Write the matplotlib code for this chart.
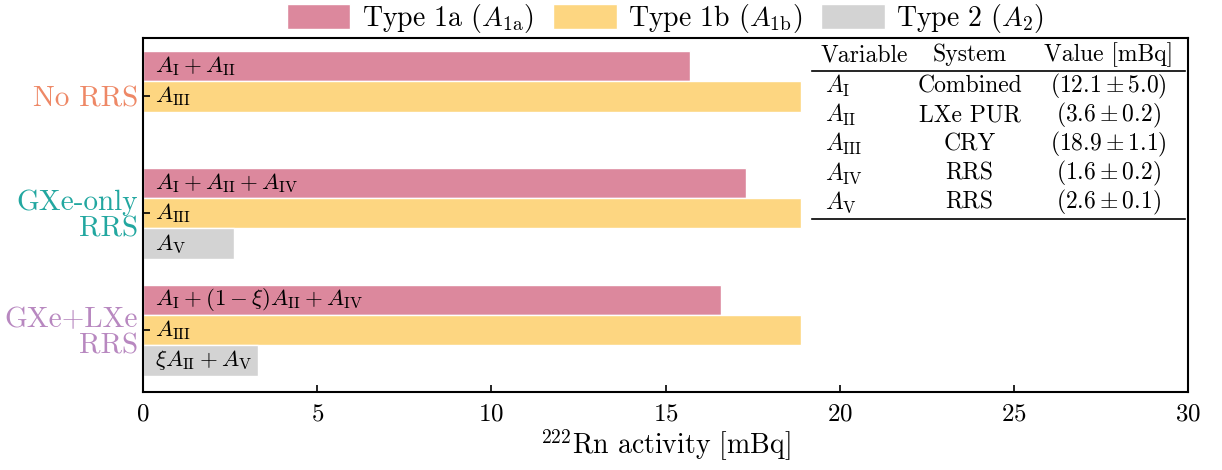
import numpy as np
import matplotlib
matplotlib.use("Agg")
import matplotlib.pyplot as plt

plt.rcParams['font.family'] = ['cmr10', 'DejaVu Serif']
plt.rcParams['mathtext.fontset'] = 'cm'
plt.rcParams['axes.unicode_minus'] = False
plt.rcParams['axes.formatter.use_mathtext'] = True

# data
groups = ['No RRS', 'GXe-only\nRRS', 'GXe+LXe\nRRS']
group_colors = ['#EE8866', '#22A7A0', '#B888C0']
type1a = [15.7, 17.3, 16.6]
type1b = [18.9, 18.9, 18.9]
type2 = [0.0, 2.6, 3.3]
labels_1a = [r'$A_\mathrm{I} + A_\mathrm{II}$',
             r'$A_\mathrm{I} + A_\mathrm{II} + A_\mathrm{IV}$',
             r'$A_\mathrm{I} + (1-\xi)A_\mathrm{II} + A_\mathrm{IV}$']
labels_1b = [r'$A_\mathrm{III}$'] * 3
labels_2 = ['', r'$A_\mathrm{V}$', r'$\xi A_\mathrm{II} + A_\mathrm{V}$']

# table
tab_head = ['Variable', 'System', 'Value [mBq]']
tab_var = [r'$A_\mathrm{I}$', r'$A_\mathrm{II}$', r'$A_\mathrm{III}$',
           r'$A_\mathrm{IV}$', r'$A_\mathrm{V}$']
tab_sys = ['Combined', 'LXe PUR', 'CRY', 'RRS', 'RRS']
tab_val = [r'$(12.1 \pm 5.0)$', r'$(3.6 \pm 0.2)$', r'$(18.9 \pm 1.1)$',
           r'$(1.6 \pm 0.2)$', r'$(2.6 \pm 0.1)$']

c1a, c1b, c2 = '#DC889D', '#FDD681', '#D3D3D3'

fig = plt.figure(figsize=(12.22, 4.70), dpi=100)
ax = fig.add_axes([143/1222, 1 - 392/470, 1045/1222, 354/470])

y = np.arange(len(groups))
h = 0.26
ax.barh(y - h, type1a, height=h, color=c1a, edgecolor='white', lw=1, label=r'Type 1a ($A_\mathrm{1a}$)')
ax.barh(y, type1b, height=h, color=c1b, edgecolor='white', lw=1, label=r'Type 1b ($A_\mathrm{1b}$)')
ax.barh(y + h, type2, height=h, color=c2, edgecolor='white', lw=1, label=r'Type 2 ($A_2$)')

fs_bar = 16.5
for i in range(len(groups)):
    ax.text(0.35, y[i] - h, labels_1a[i], va='center', ha='left', fontsize=fs_bar)
    ax.text(0.35, y[i], labels_1b[i], va='center', ha='left', fontsize=fs_bar)
    if labels_2[i]:
        ax.text(0.35, y[i] + h, labels_2[i], va='center', ha='left', fontsize=fs_bar)

ax.set_xlim(0, 30)
ax.set_ylim(2.53, -0.5)
ax.set_yticks(y)
ax.set_yticklabels(groups, fontsize=21, linespacing=1.0)
for lab, col in zip(ax.get_yticklabels(), group_colors):
    lab.set_color(col)
ax.tick_params(axis='both', direction='in', length=5, width=1.2)
ax.tick_params(axis='x', labelsize=18, pad=8)
ax.set_xlabel(r'$^{222}$Rn activity [mBq]', fontsize=20, labelpad=2)
for s in ax.spines.values():
    s.set_linewidth(1.5)

# table drawn as text
fs_tab = 17
tr = ax.transAxes
ax.text(0.648, 0.935, tab_head[0], transform=tr, fontsize=fs_tab, ha='left', va='baseline')
ax.text(0.791, 0.935, tab_head[1], transform=tr, fontsize=fs_tab, ha='center', va='baseline')
ax.text(0.924, 0.935, tab_head[2], transform=tr, fontsize=fs_tab, ha='center', va='baseline')
ax.plot([0.640, 0.997], [0.907, 0.907], transform=tr, color='k', lw=1.2)
for k in range(len(tab_var)):
    yy = 0.845 - k * 0.0819
    ax.text(0.653, yy, tab_var[k], transform=tr, fontsize=fs_tab, ha='left', va='baseline')
    ax.text(0.791, yy, tab_sys[k], transform=tr, fontsize=fs_tab, ha='center', va='baseline')
    ax.text(0.924, yy, tab_val[k], transform=tr, fontsize=fs_tab, ha='center', va='baseline')
ax.plot([0.640, 0.997], [0.49, 0.49], transform=tr, color='k', lw=1.2)

ax.legend(loc='lower center', bbox_to_anchor=(0.5, 1.008), ncol=3, frameon=False,
          fontsize=20, handlelength=2.3, handleheight=1.0, columnspacing=0.7,
          handletextpad=0.4, borderaxespad=0.0, borderpad=0.0)

fig.savefig('out.png', dpi=100)
